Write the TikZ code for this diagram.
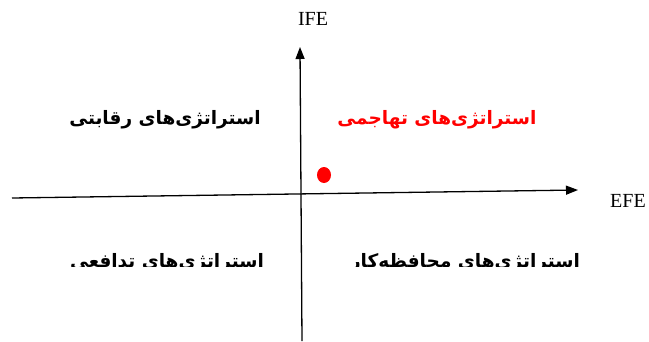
\documentclass[tikz,border=0pt]{standalone}
\usepackage{fontspec}
\setmainfont{Liberation Serif}
\newfontfamily\fa[Script=Arabic]{DejaVu Sans}
\TeXXeTstate=1
\usetikzlibrary{arrows.meta}
\begin{document}
\begin{tikzpicture}[x=1pt,y=-1pt,
  axis/.style={line width=1.3pt,-{Triangle[length=12pt,width=9pt]}},
  fatext/.style={font=\fa\bfseries\fontsize{18.5}{20}\selectfont,inner sep=0pt},
  latlabel/.style={font=\fontsize{20}{22}\selectfont,inner sep=0pt}]
\useasboundingbox (0,0) rectangle (649,341);
\coordinate (hl) at (12,198);
\coordinate (hr) at (578,190);
\coordinate (vb) at (302,341);
\coordinate (vt) at (300,47);
\draw[axis] (hl) -- (hr);
\draw[axis] (vb) -- (vt);
\node[latlabel] (ife) at (313,19) {IFE};
\node[latlabel] (efe) at (628,201) {EFE};
\fill[red] (324,175) ellipse (7pt and 8pt);
\node[fatext,anchor=base] (tl) at (165,124) {\beginR استراتژی‌های رقابتی\endR};
\node[fatext,anchor=base,text=red] (tr) at (437,124) {\beginR استراتژی‌های تهاجمی\endR};
\begin{scope}
\clip (0,0) rectangle (649,266.5);
\node[fatext,anchor=base] (bl) at (167,267) {\beginR استراتژی‌های تدافعی\endR};
\node[fatext,anchor=base] (br) at (465,267) {\beginR استراتژی‌های محافظه‌کار\endR};
\end{scope}
\end{tikzpicture}
\end{document}
